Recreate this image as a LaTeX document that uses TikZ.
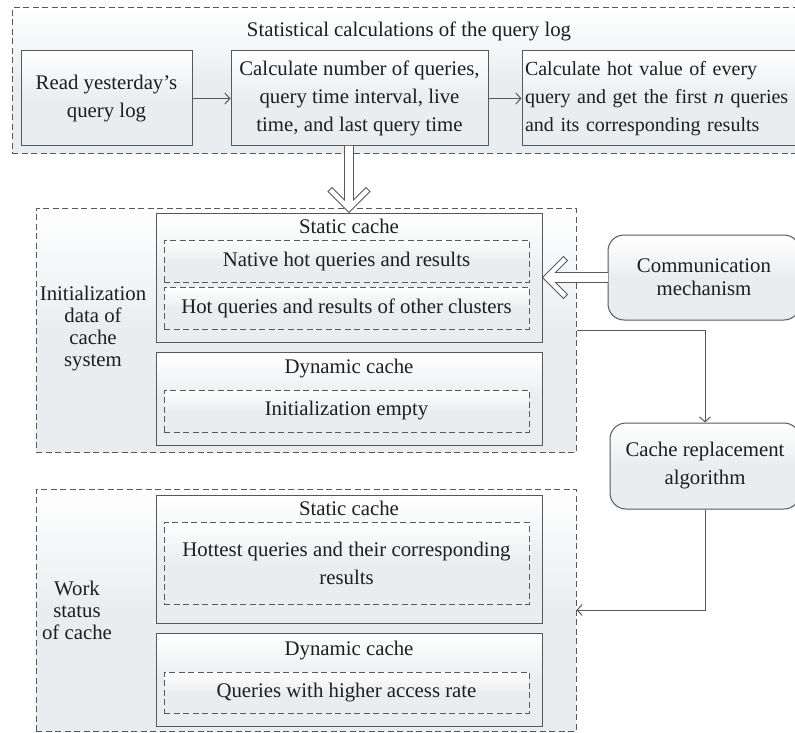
\documentclass[tikz,border=0pt]{standalone}
\usepackage{fontspec}
\setmainfont{Liberation Serif}
\usetikzlibrary{arrows.meta}
\definecolor{boxgray}{RGB}{234,237,239}
\definecolor{linegray}{RGB}{88,88,88}
\definecolor{txtgray}{RGB}{30,30,30}
\begin{document}
\begin{tikzpicture}[x=1pt,y=-1pt,>={Straight Barb[length=5pt,width=11pt]},
	every node/.style={text=txtgray,font=\fontsize{20.8}{28}\selectfont,inner sep=0pt},
	shaded/.style={top color=white,bottom color=boxgray,middle color=boxgray},
	group/.style={shaded,draw=linegray,line width=1pt,dash pattern=on 6pt off 3.5pt},
	solidbox/.style={shaded,draw=linegray,line width=1pt},
	dashbox/.style={shaded,draw=linegray,line width=1pt,dash pattern=on 6pt off 3.5pt},
	roundbox/.style={solidbox,rounded corners=16pt},
	tightlines/.style={align=center,font=\fontsize{20.8}{22}\selectfont},
	hollow/.style={draw=linegray,fill=white,line width=0.9pt,line join=miter}]
	\useasboundingbox (0,0) rectangle (795,733);
	\node[group,minimum width=800pt,minimum height=146pt] (statgroup) at (412,81) {};
	\node (stattitle) at (409,31) {Statistical calculations of the query log};
	\node[solidbox,minimum width=171pt,minimum height=95pt,align=center] (readlog) at (106.5,98.5) {Read yesterday's\\query log};
	\node[solidbox,minimum width=257pt,minimum height=95pt,align=center] (counts) at (359.5,98.5) {Calculate number of queries,\\query time interval, live\\time, and last query time};
	\node[solidbox,minimum height=95pt,text width=282pt,inner xsep=3pt,align=left,font=\fontsize{20}{28}\selectfont] (hotvalue) at (666,98.5) {Calculate hot value of every\\query and get the first \textit{n} queries\\and its corresponding results};
	\node[group,minimum width=540pt,minimum height=244pt] (initgroup) at (306,330) {};
	\node[tightlines] (initlabel) at (93,328.5) {Initialization\\data of\\cache\\system};
	\node[solidbox,minimum width=386pt,minimum height=129pt] (initstatic) at (349,277.5) {};
	\node (initstatictitle) at (349,226) {Static cache};
	\node[dashbox,minimum width=365pt,minimum height=42pt] (nativehot) at (346.5,261) {Native hot queries and results};
	\node[dashbox,minimum width=365pt,minimum height=42pt] (otherhot) at (346.5,308) {Hot queries and results of other clusters};
	\node[solidbox,minimum width=386pt,minimum height=93pt] (initdynamic) at (349,398.5) {};
	\node (initdynamictitle) at (349,369) {Dynamic cache};
	\node[dashbox,minimum width=365pt,minimum height=42pt] (initempty) at (346.5,411) {Initialization empty};
	\node[roundbox,minimum width=192pt,minimum height=85pt,tightlines,font=\fontsize{20.8}{23}\selectfont] (comm) at (704,277.5) {Communication\\mechanism};
	\node[roundbox,minimum width=190pt,minimum height=86pt,align=center] (replace) at (705,466) {Cache replacement\\algorithm};
	\node[group,minimum width=540pt,minimum height=242pt] (workgroup) at (306,610) {};
	\node[tightlines] (worklabel) at (77,610) {Work\\status\\of cache};
	\node[solidbox,minimum width=386pt,minimum height=128pt] (workstatic) at (349,559) {};
	\node (workstatictitle) at (349,508) {Static cache};
	\node[dashbox,minimum width=365pt,minimum height=82pt,align=center] (hottest) at (346.5,563) {Hottest queries and their corresponding\\results};
	\node[solidbox,minimum width=386pt,minimum height=93pt] (workdynamic) at (349,679.5) {};
	\node (workdynamictitle) at (349,651) {Dynamic cache};
	\node[dashbox,minimum width=365pt,minimum height=41pt] (higherrate) at (346.5,692.5) {Queries with higher access rate};
	\draw[->,linegray,line width=1pt] (readlog) -- (counts);
	\draw[->,linegray,line width=1pt] (counts) -- (hotvalue);
	\draw[->,linegray,line width=1pt] (initgroup.east) -| (replace.north);
	\draw[->,linegray,line width=1pt] (replace.south) |- (workgroup.east);
	\begin{scope}[shift={(initstatic.north)},rotate=-90]
		\draw[hollow] (-66.5,-4.5) -- (-12.5,-4.5) -- (-25,-17) -- (-21,-21) -- (0,0) -- (-21,21) -- (-25,17) -- (-12.5,4.5) -- (-66.5,4.5);
	\end{scope}
	\begin{scope}[shift={(initstatic.east)},rotate=180]
		\draw[hollow] (-65.5,-5) -- (-13,-5) -- (-25,-17) -- (-21,-21) -- (0,0) -- (-21,21) -- (-25,17) -- (-13,5) -- (-65.5,5);
	\end{scope}
\end{tikzpicture}
\end{document}
